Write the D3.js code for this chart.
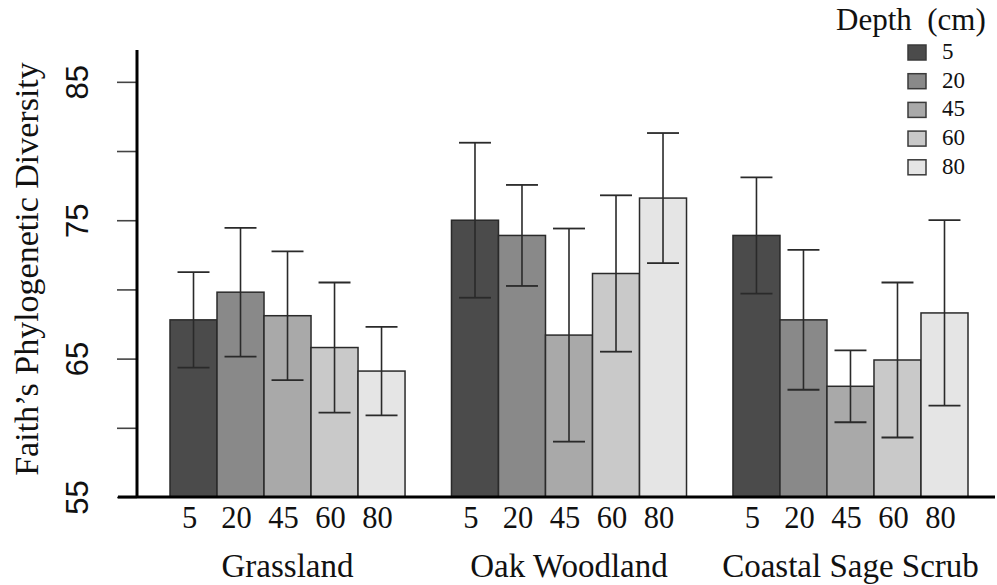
<!DOCTYPE html>
<html>
<head>
<meta charset="utf-8">
<script src="https://cdn.jsdelivr.net/npm/d3@7"></script>
<style>
  html, body { margin: 0; padding: 0; background: #fff; }
  svg { display: block; }
</style>
</head>
<body>
<svg id="chart" width="997" height="585"></svg>
<script>
// ---- data ----
const groups = ["Grassland", "Oak Woodland", "Coastal Sage Scrub"];
const depths = ["5", "20", "45", "60", "80"];
const meansGrassland = [67.8, 69.8, 68.1, 65.8, 64.1];
const meansOak = [75.0, 73.9, 66.7, 71.15, 76.6];
const meansCoastal = [73.9, 67.8, 63.0, 64.9, 68.3];
const sdGrassland = [3.45, 4.65, 4.65, 4.7, 3.2];
const sdOak = [5.6, 3.65, 7.7, 5.65, 4.7];
const sdCoastal = [4.2, 5.05, 2.6, 5.6, 6.7];
const yTicks = [55, 60, 65, 70, 75, 80, 85];
const yTickLabels = [55, 65, 75, 85];
const fills = ["#4b4b4b", "#898989", "#a9a9a9", "#c9c9c9", "#e5e5e5"];

const meansBy = [meansGrassland, meansOak, meansCoastal];
const sdBy = [sdGrassland, sdOak, sdCoastal];
const rows = [];
groups.forEach((g, gi) => depths.forEach((d, di) => {
  rows.push({ group: g, depth: d, di, mean: meansBy[gi][di], sd: sdBy[gi][di] });
}));

// ---- scales ----
const svg = d3.select("#chart");
const y = d3.scaleLinear().domain([55, 87.3]).range([497, 50]);
const x0 = d3.scaleBand().domain(groups).range([170, 968]).paddingInner(0.165).paddingOuter(0);
const x1 = d3.scaleBand().domain(depths).range([0, x0.bandwidth()]).padding(0);
const color = d3.scaleOrdinal().domain(depths).range(fills);

// ---- y axis ----
const yAxis = d3.axisLeft(y)
  .tickValues(yTicks)
  .tickSize(20)
  .tickPadding(0)
  .tickFormat(d => yTickLabels.includes(d) ? d : "");
const yg = svg.append("g").attr("transform", "translate(137,0)").call(yAxis);
yg.select(".domain").remove();
yg.selectAll(".tick line").attr("stroke", "#444").attr("stroke-width", 1.6);
yg.selectAll(".tick text")
  .attr("x", 0).attr("y", 0).attr("dy", null)
  .attr("transform", "translate(-49,0) rotate(-90)")
  .attr("text-anchor", "middle")
  .attr("font-family", "Liberation Sans, Arial, sans-serif")
  .attr("font-size", 31)
  .attr("fill", "#111");

// y axis line
svg.append("line").attr("x1", 137).attr("x2", 137)
  .attr("y1", y.range()[1]).attr("y2", y(55))
  .attr("stroke", "#000").attr("stroke-width", 3);

// y title
svg.append("text")
  .attr("transform", `translate(38,${(68 + 470) / 2}) rotate(-90)`)
  .attr("text-anchor", "middle")
  .attr("font-family", "Liberation Serif, Times New Roman, serif")
  .attr("font-size", 34)
  .attr("fill", "#111")
  .text("Faith\u2019s Phylogenetic Diversity");

// ---- bars ----
const gGroups = svg.append("g").selectAll("g").data(groups).join("g")
  .attr("transform", d => `translate(${x0(d)},0)`);

gGroups.selectAll("rect")
  .data(g => rows.filter(r => r.group === g))
  .join("rect")
  .attr("x", d => x1(d.depth))
  .attr("y", d => y(d.mean))
  .attr("width", x1.bandwidth())
  .attr("height", d => y(55) - y(d.mean))
  .attr("fill", d => color(d.depth))
  .attr("stroke", "#2a2a2a")
  .attr("stroke-width", 1.5);

// error bars
const capHalf = x1.bandwidth() * 0.34;
const eb = gGroups.selectAll("g.eb")
  .data(g => rows.filter(r => r.group === g))
  .join("g").attr("class", "eb")
  .attr("transform", d => `translate(${x1(d.depth) + x1.bandwidth() / 2},0)`);
eb.append("line").attr("x1", 0).attr("x2", 0)
  .attr("y1", d => y(d.mean + d.sd)).attr("y2", d => y(d.mean - d.sd))
  .attr("stroke", "#2a2a2a").attr("stroke-width", 1.6);
eb.append("line").attr("x1", -capHalf).attr("x2", capHalf)
  .attr("y1", d => y(d.mean + d.sd)).attr("y2", d => y(d.mean + d.sd))
  .attr("stroke", "#2a2a2a").attr("stroke-width", 1.8);
eb.append("line").attr("x1", -capHalf).attr("x2", capHalf)
  .attr("y1", d => y(d.mean - d.sd)).attr("y2", d => y(d.mean - d.sd))
  .attr("stroke", "#2a2a2a").attr("stroke-width", 1.8);

// depth labels under bars
gGroups.selectAll("text.depth")
  .data(depths).join("text").attr("class", "depth")
  .attr("x", d => x1(d) + x1.bandwidth() / 2 - 4)
  .attr("y", 528)
  .attr("text-anchor", "middle")
  .attr("font-family", "Liberation Serif, Times New Roman, serif")
  .attr("font-size", 30.5)
  .attr("fill", "#111")
  .text(d => d);

// group labels
gGroups.append("text")
  .attr("x", x0.bandwidth() / 2)
  .attr("y", 577)
  .attr("text-anchor", "middle")
  .attr("font-family", "Liberation Serif, Times New Roman, serif")
  .attr("font-size", 33)
  .attr("fill", "#111")
  .text(d => d);

// baseline
svg.append("line").attr("x1", 118).attr("x2", 995)
  .attr("y1", y(55)).attr("y2", y(55))
  .attr("stroke", "#000").attr("stroke-width", 3);

// ---- legend ----
const lg = svg.append("g");
lg.append("text")
  .attr("x", 836).attr("y", 30)
  .attr("font-family", "Liberation Serif, Times New Roman, serif")
  .attr("font-size", 31)
  .attr("fill", "#111")
  .style("white-space", "pre")
  .text("Depth  (cm)");
const li = lg.selectAll("g.li").data(depths).join("g").attr("class", "li")
  .attr("transform", (d, i) => `translate(908,${45 + i * 28.7})`);
li.append("rect").attr("width", 18).attr("height", 15)
  .attr("fill", d => color(d)).attr("stroke", "#3a3a3a").attr("stroke-width", 1.5);
li.append("text").attr("x", 34).attr("y", 14)
  .attr("font-family", "Liberation Serif, Times New Roman, serif")
  .attr("font-size", 23)
  .attr("fill", "#111")
  .text(d => d);
</script>
</body>
</html>
